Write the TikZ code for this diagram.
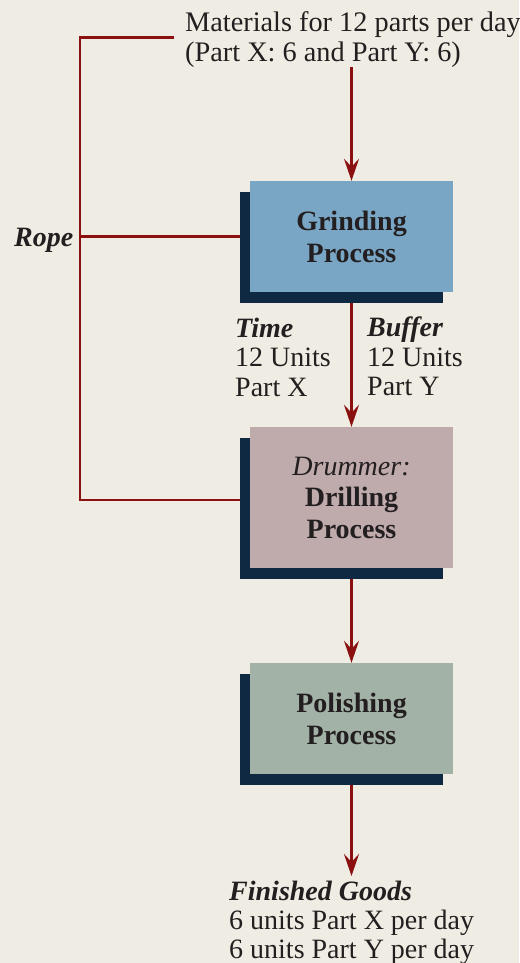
\documentclass[tikz,border=0pt]{standalone}
\usepackage{fontspec}
\setmainfont{Liberation Serif}
\usetikzlibrary{arrows.meta,shadows}
\definecolor{bgc}{HTML}{EFEDE3}
\definecolor{txtc}{HTML}{231F20}
\definecolor{ropec}{HTML}{8B1010}
\definecolor{shadc}{HTML}{102942}
\definecolor{grindc}{HTML}{7AA6C6}
\definecolor{drillc}{HTML}{BFAAAC}
\definecolor{polc}{HTML}{A3B2A6}
\begin{document}
\begin{tikzpicture}[x=1pt,y=-1pt,
  proc/.style={minimum width=203pt, minimum height=111pt, inner sep=0pt, align=center,
    font=\fontsize{28}{32}\selectfont\bfseries, text=txtc,
    drop shadow={shadow xshift=-10pt, shadow yshift=-11pt, fill=shadc, opacity=1}},
  txt/.style={inner sep=0pt, align=left, text=txtc},
  ropeline/.style={draw=ropec, line width=2.8pt},
  arr/.style={draw=ropec, line width=2.8pt, -{Stealth[length=22pt,width=15pt,inset=8pt]}}]
\fill[bgc] (0,0) rectangle (519,963);
\useasboundingbox (0,0) rectangle (519,963);

\node[proc, fill=grindc] (g) at (351.5,236.5) {Grinding\\Process};
\node[proc, fill=drillc, minimum height=141pt, font=\fontsize{28}{31.5}\selectfont\bfseries] (d) at (351.5,497.5) {{\mdseries\itshape Drummer:}\\Drilling\\Process};
\node[proc, fill=polc] (p) at (351.5,718.5) {Polishing\\Process};

\node[txt, anchor=north west, font=\fontsize{28.3}{30}\selectfont] (mat) at (185,11)
  {Materials for 12 parts per day\\(Part X: 6 and Part Y: 6)};
\node[txt, anchor=north west, font=\fontsize{28}{29.5}\selectfont] (time) at (235,317.5)
  {\textbf{\textit{Time}}\\12 Units\\Part X};
\node[txt, anchor=north west, font=\fontsize{28}{29.5}\selectfont] (buf) at (367,317)
  {\textbf{\textit{Buffer}}\\12 Units\\Part Y};
\node[txt, anchor=base west, font=\fontsize{28}{30}\selectfont\bfseries\itshape] (rope) at (14,246) {Rope};
\node[txt, anchor=north west, font=\fontsize{28}{29}\selectfont] (fing) at (229,881)
  {\textbf{\textit{Finished Goods}}\\6 units Part X per day\\6 units Part Y per day};

\coordinate (m0) at (351.5,67);
\coordinate (fin) at (351.5,876);
\coordinate (ropeTop) at (174,37.5);
\coordinate (ropeCorner) at (80,37.5);

\draw[arr] (m0) -- (g.north);
\draw[arr] ([yshift=-11pt]g.south) -- (d.north);
\draw[arr] ([yshift=-11pt]d.south) -- (p.north);
\draw[arr] ([yshift=-11pt]p.south) -- (fin);

\draw[ropeline] (ropeTop) -- (ropeCorner) |- ([xshift=-10pt,yshift=-2.5pt]d.west);
\draw[ropeline] (ropeCorner |- g.west) -- ([xshift=-10pt]g.west);
\end{tikzpicture}
\end{document}
